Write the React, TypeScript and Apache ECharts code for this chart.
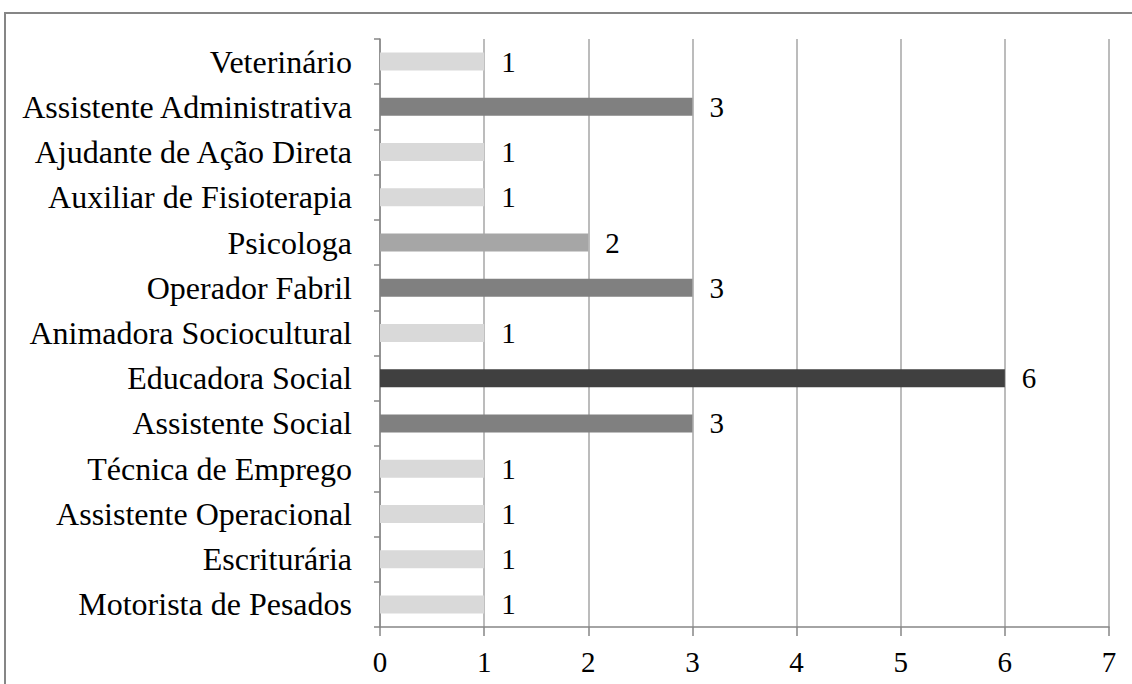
import React, { useEffect, useRef } from "react";
import * as echarts from "echarts";

const categories = [
  "Motorista de Pesados",
  "Escriturária",
  "Assistente Operacional",
  "Técnica de Emprego",
  "Assistente Social",
  "Educadora Social",
  "Animadora Sociocultural",
  "Operador Fabril",
  "Psicologa",
  "Auxiliar de Fisioterapia",
  "Ajudante de Ação Direta",
  "Assistente Administrativa",
  "Veterinário",
];

const values = [1, 1, 1, 1, 3, 6, 1, 3, 2, 1, 1, 3, 1];

const xTicks = [0, 1, 2, 3, 4, 5, 6, 7];

const colorByValue: Record<number, string> = {
  1: "#d9d9d9",
  2: "#a6a6a6",
  3: "#808080",
  6: "#404040",
};

const FONT = "Liberation Serif";

export default function App() {
  const ref = useRef<HTMLDivElement>(null);

  useEffect(() => {
    if (!ref.current) return;
    const chart = echarts.init(ref.current, null, { renderer: "svg" });
    chart.setOption({
      animation: false,
      backgroundColor: "#ffffff",
      grid: { left: 380, right: 23, top: 39, bottom: 57, containLabel: false },
      graphic: [
        {
          type: "rect",
          shape: { x: 5, y: 13, width: 1200, height: 720 },
          style: { fill: "none", stroke: "#868686", lineWidth: 2 },
          silent: true,
        },
      ],
      xAxis: {
        type: "value",
        min: xTicks[0],
        max: xTicks[xTicks.length - 1],
        interval: 1,
        axisLine: { show: true, lineStyle: { color: "#868686", width: 1.5 } },
        axisTick: { show: true, length: 9, lineStyle: { color: "#868686", width: 1.5 } },
        axisLabel: {
          margin: 20,
          color: "#000",
          fontFamily: FONT,
          fontSize: 29,
        },
        splitLine: { show: true, lineStyle: { color: "#a6a6a6", width: 1.5 } },
      },
      yAxis: {
        type: "category",
        data: categories,
        axisLine: { show: true, lineStyle: { color: "#868686", width: 1.5 } },
        axisTick: { show: true, length: 6, lineStyle: { color: "#868686", width: 1.5 } },
        axisLabel: {
          margin: 28,
          color: "#000",
          fontFamily: FONT,
          fontSize: 32,
        },
        splitLine: { show: false },
      },
      series: [
        {
          type: "bar",
          barWidth: 18,
          data: values.map((v) => ({
            value: v,
            itemStyle: { color: colorByValue[v] || "#808080" },
          })),
          label: {
            show: true,
            position: "right",
            distance: 17,
            color: "#000",
            fontFamily: FONT,
            fontSize: 29,
          },
        },
      ],
    });
    return () => chart.dispose();
  }, []);

  return (
    <div
      ref={ref}
      style={{ position: "fixed", left: 0, top: 0, width: 1132, height: 684 }}
    />
  );
}
